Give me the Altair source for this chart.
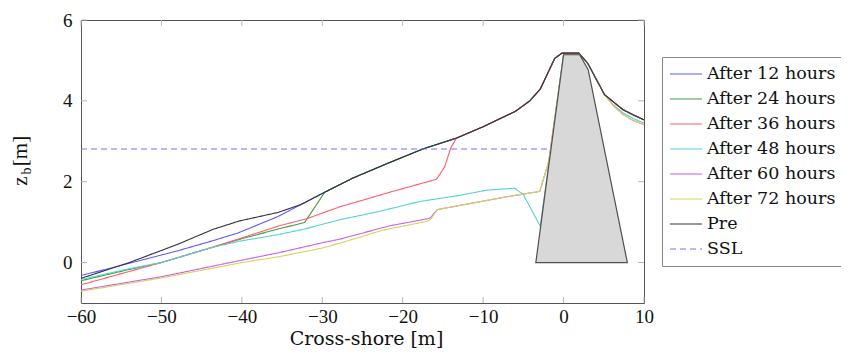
import altair as alt
import pandas as pd

# ---------------- data ----------------
series_names = ["After 12 hours", "After 24 hours", "After 36 hours", "After 48 hours",
                "After 60 hours", "After 72 hours", "Pre", "SSL"]
series_colors = ["#5a5aff", "#3f9f3f", "#ff5c6c", "#55d2d2", "#cf5ee0", "#d4d45e", "#333333", "#7373ff"]

pre_x = [-60, -54, -48, -43.6, -40.3, -35.5, -32.6, -29.7, -26.2, -21.8, -17.5, -13.3, -10, -7.9,
         -6, -4.2, -2.9, -1.1, -0.2, 1.9, 3.0, 5.1, 7.4, 8.7, 10]
pre_y = [-0.39, 0.0, 0.45, 0.82, 1.03, 1.24, 1.44, 1.74, 2.09, 2.46, 2.81, 3.08, 3.36, 3.56,
         3.74, 4.0, 4.29, 5.05, 5.18, 5.18, 4.93, 4.15, 3.78, 3.65, 3.53]

h12_x = [-60, -54, -48, -43.8, -40.5, -35.5]
h12_y = [-0.32, -0.02, 0.29, 0.53, 0.73, 1.14]
h12_join = -32.6

h24_x = [-60, -54, -50, -43.8, -40, -35.5, -32.2]
h24_y = [-0.45, -0.17, 0.0, 0.37, 0.59, 0.83, 0.99]
h24_join = -29.7

h36_x = [-60, -54, -50, -43.8, -40, -35.5, -32, -27.8, -21.6, -15.8, -14.8, -14.0]
h36_y = [-0.55, -0.22, 0.0, 0.37, 0.61, 0.9, 1.08, 1.38, 1.74, 2.06, 2.36, 2.85]
h36_join = -13.3

h48_x = [-60, -54, -50, -43.8, -40, -35.5, -32, -27.8, -22.8, -17.9, -13, -9.6, -6.1, -5.0,
         -2.9, 0, 1.9, 3.0, 5.1, 6.2, 7.4, 8.7, 10]
h48_y = [-0.42, -0.15, 0.0, 0.37, 0.54, 0.69, 0.84, 1.06, 1.27, 1.51, 1.66, 1.79, 1.84, 1.68,
         0.9, 5.14, 5.16, 4.93, 4.15, 3.9, 3.7, 3.56, 3.45]

h60_x = [-60, -50, -40, -35.5, -30, -27.8, -21.6, -17.0, -16.6, -15.7, -7, -2.95, -1.85, 0,
         1.9, 3.0, 5.1, 6.2, 7.4, 8.7, 10]
h60_y = [-0.68, -0.35, 0.06, 0.24, 0.49, 0.58, 0.91, 1.08, 1.10, 1.31, 1.63, 1.76, 2.5, 5.14,
         5.16, 4.93, 4.15, 3.88, 3.66, 3.51, 3.41]

h72_x = [-60, -50, -40, -35.5, -30, -27.8, -22.5, -17.0, -16.6, -15.7, -7, -2.95, -1.85, 0,
         1.9, 3.0, 5.1, 6.2, 7.4, 8.7, 10]
h72_y = [-0.71, -0.38, 0.0, 0.14, 0.36, 0.48, 0.8, 1.02, 1.05, 1.31, 1.63, 1.76, 2.5, 5.14,
         5.16, 4.93, 4.15, 3.88, 3.66, 3.51, 3.41]

ssl_x = [-60, -1.6]
ssl_y = [2.81, 2.81]

struct_x = [-3.45, 0, 2.0, 3.06, 7.93]
struct_y = [0, 5.14, 5.14, 4.77, 0]

x_ticks = [-60, -50, -40, -30, -20, -10, 0, 10]
y_ticks = [0, 2, 4, 6]


def with_pre_tail(xs, ys, join):
    tx = [v for v in pre_x if v >= join]
    ty = [pre_y[i] for i, v in enumerate(pre_x) if v >= join]
    return xs + tx, ys + ty


series_xy = {
    "After 12 hours": with_pre_tail(h12_x, h12_y, h12_join),
    "After 24 hours": with_pre_tail(h24_x, h24_y, h24_join),
    "After 36 hours": with_pre_tail(h36_x, h36_y, h36_join),
    "After 48 hours": (h48_x, h48_y),
    "After 60 hours": (h60_x, h60_y),
    "After 72 hours": (h72_x, h72_y),
    "Pre": (pre_x, pre_y),
    "SSL": (ssl_x, ssl_y),
}

rows = []
for name in series_names:
    xs, ys = series_xy[name]
    for i, (a, b) in enumerate(zip(xs, ys)):
        rows.append({"series": name, "x": a, "y": b, "i": i})
df = pd.DataFrame(rows)

struct_df = pd.DataFrame({"x": struct_x, "y": struct_y, "y0": [0] * len(struct_x)})
xt_df = pd.DataFrame({"x": x_ticks})
yt_df = pd.DataFrame({"y": y_ticks})

W, H = 563, 283

x_scale = alt.Scale(domain=[-60, 10], nice=False, zero=False)
y_scale = alt.Scale(domain=[-1, 6], nice=False, zero=False)

x_axis = alt.Axis(values=x_ticks, title="Cross-shore [m]", grid=False, ticks=False, tickSize=0,
                  domain=False, labelFont="Liberation Serif", labelFontSize=19, labelColor="#111",
                  labelPadding=4, labelFlush=False, labelOverlap=False,
                  labelExpr="replace(datum.label, '-', '\u2212')",
                  titleFont="DejaVu Serif", titleFontSize=19, titleFontWeight="normal",
                  titleColor="#111", titleBaseline="alphabetic", titleY=41, titleX=285)
y_axis = alt.Axis(values=y_ticks, title=None, grid=False, ticks=False, tickSize=0, domain=False,
                  labelFont="Liberation Serif", labelFontSize=19, labelColor="#111",
                  labelPadding=9, labelFlush=False, labelOverlap=False,
                  labelExpr="replace(datum.label, '-', '\u2212')")

color_enc = alt.Color("series:N", scale=alt.Scale(domain=series_names, range=series_colors),
                      legend=alt.Legend(title=None))
dash_enc = alt.StrokeDash("series:N",
                          scale=alt.Scale(domain=series_names,
                                          range=[[1, 0]] * 7 + [[6, 4]]),
                          legend=alt.Legend(title=None))

layers = []
for k, name in enumerate(series_names):
    if k == 0:
        enc_x = alt.X("x:Q", scale=x_scale, axis=x_axis)
        enc_y = alt.Y("y:Q", scale=y_scale, axis=y_axis)
    else:
        enc_x = alt.X("x:Q")
        enc_y = alt.Y("y:Q")
    layers.append(
        alt.Chart(df).transform_filter(alt.datum.series == name)
        .mark_line(strokeWidth=1.1)
        .encode(x=enc_x, y=enc_y, color=color_enc, strokeDash=dash_enc, order="i:Q")
    )

structure = alt.Chart(struct_df).mark_area(fill="#d8d8d8", stroke="#505050", strokeWidth=1.2).encode(
    x="x:Q", y="y:Q", y2="y0:Q")

tick_color = "#b5b5b5"
xt_bottom = alt.Chart(xt_df).mark_rule(color=tick_color).encode(x="x:Q", y=alt.value(H), y2=alt.value(H - 6))
xt_top = alt.Chart(xt_df).mark_rule(color=tick_color).encode(x="x:Q", y=alt.value(0), y2=alt.value(6))
yt_left = alt.Chart(yt_df).mark_rule(color=tick_color).encode(y="y:Q", x=alt.value(0), x2=alt.value(6))
yt_right = alt.Chart(yt_df).mark_rule(color=tick_color).encode(y="y:Q", x=alt.value(W), x2=alt.value(W - 6))

# y-axis title z_b [m] (with subscript)
t_z = alt.Chart(pd.DataFrame({"t": ["z"]})).mark_text(
    font="Liberation Serif", fontSize=21, angle=270, align="center", baseline="alphabetic", color="#111"
).encode(text="t:N", x=alt.value(-54), y=alt.value(161))
t_b = alt.Chart(pd.DataFrame({"t": ["b"]})).mark_text(
    font="Liberation Serif", fontSize=14, angle=270, align="center", baseline="alphabetic", color="#111"
).encode(text="t:N", x=alt.value(-50.5), y=alt.value(151))
t_m = alt.Chart(pd.DataFrame({"t": ["[m]"]})).mark_text(
    font="Liberation Serif", fontSize=21, angle=270, align="center", baseline="alphabetic", color="#111"
).encode(text="t:N", x=alt.value(-54), y=alt.value(131))

chart = alt.layer(
    *layers, structure, xt_bottom, xt_top, yt_left, yt_right, t_z, t_b, t_m
).properties(
    width=W, height=H,
    padding={"left": 73, "top": 12, "right": 197, "bottom": 45},
    autosize="none",
).configure_view(
    stroke="#555555", strokeWidth=1
).configure_legend(
    orient="none", legendX=581, legendY=37,
    symbolType="stroke", symbolSize=1024, symbolStrokeWidth=1.1,
    clipHeight=20, rowPadding=5, padding=7,
    strokeColor="#888888", fillColor="white",
    labelFont="DejaVu Serif", labelFontSize=17.5, labelColor="#111", labelOffset=4, labelLimit=400,
)

chart.save("out.html", embed_options={"renderer": "svg", "actions": False})
